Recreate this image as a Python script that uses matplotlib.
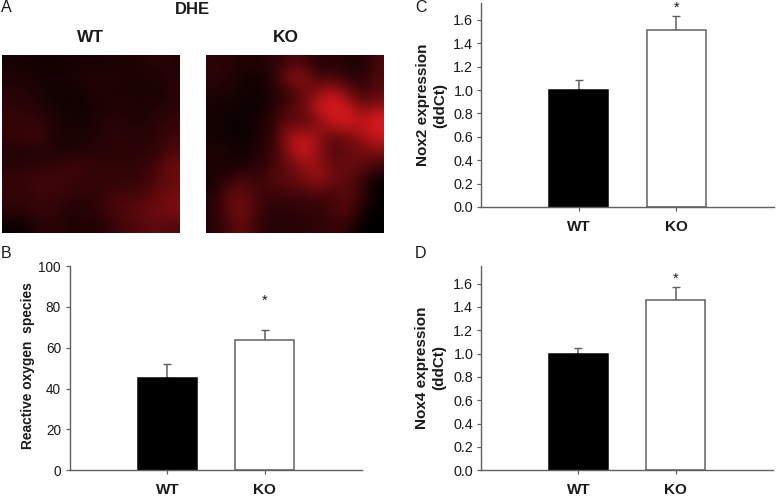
import numpy as np
import matplotlib
matplotlib.use("Agg")
import matplotlib.pyplot as plt
from matplotlib.colors import LinearSegmentedColormap

plt.rcParams['font.family'] = ['Liberation Sans', 'DejaVu Sans']

W, H = 776, 496
groups = ["WT", "KO"]

ros_values = [45, 64]
ros_upper = [52, 68.5]
ros_ticks = [0, 20, 40, 60, 80, 100]

nox2_values = [1.0, 1.515]
nox2_upper = [1.085, 1.635]
nox4_values = [1.0, 1.455]
nox4_upper = [1.045, 1.57]
nox_ticks = [0.0, 0.2, 0.4, 0.6, 0.8, 1.0, 1.2, 1.4, 1.6]

# Coarse estimate of red-signal intensity read from the micrographs
wt_intensity = [
    [.10, .10, .08, .08, .10, .10, .10, .12, .12, .14, .18, .14],
    [.14, .12, .10, .10, .10, .14, .14, .14, .12, .12, .14, .16],
    [.18, .16, .12, .08, .08, .10, .14, .12, .12, .10, .10, .18],
    [.20, .18, .16, .10, .08, .08, .12, .14, .14, .14, .16, .18],
    [.22, .24, .20, .14, .10, .10, .14, .18, .14, .14, .18, .22],
    [.22, .24, .28, .14, .10, .12, .16, .20, .18, .16, .20, .28],
    [.16, .12, .16, .14, .14, .16, .16, .18, .18, .18, .22, .32],
    [.18, .18, .20, .22, .26, .26, .20, .22, .20, .22, .32, .46],
    [.22, .24, .28, .28, .26, .22, .22, .22, .22, .24, .34, .42],
    [.24, .18, .26, .24, .22, .18, .22, .28, .30, .32, .40, .48],
    [.18, .20, .24, .22, .14, .16, .20, .30, .36, .40, .46, .50],
    [.04, .05, .16, .18, .14, .14, .12, .24, .30, .36, .38, .34],
]
ko_intensity = [
    [.18, .18, .14, .14, .18, .28, .30, .16, .16, .14, .12, .30],
    [.20, .16, .10, .08, .16, .50, .62, .28, .30, .22, .16, .34],
    [.14, .12, .08, .06, .14, .26, .36, .58, .72, .50, .24, .36],
    [.10, .08, .06, .06, .14, .30, .44, .72, .88, .78, .50, .60],
    [.10, .06, .05, .10, .20, .44, .34, .52, .74, .88, .72, .90],
    [.10, .06, .05, .12, .18, .62, .72, .62, .40, .46, .60, .78],
    [.14, .12, .08, .14, .24, .54, .82, .60, .32, .40, .46, .52],
    [.12, .10, .12, .18, .30, .38, .56, .62, .44, .44, .38, .28],
    [.10, .22, .34, .24, .34, .40, .44, .60, .44, .38, .26, .02],
    [.14, .40, .42, .28, .24, .26, .26, .30, .26, .40, .22, .02],
    [.16, .36, .48, .28, .16, .18, .20, .20, .28, .38, .12, .01],
    [.14, .30, .42, .22, .16, .16, .18, .20, .24, .20, .02, .00],
]

fig = plt.figure(figsize=(W / 100, H / 100), dpi=100, facecolor="white")


def px_axes(x0, y0, x1, y1):
    """Axes from pixel edges, y measured from the top of the figure."""
    return fig.add_axes([x0 / W, 1 - y1 / H, (x1 - x0) / W, (y1 - y0) / H])


def ftext(x, y, s, **kw):
    kw.setdefault("ha", "center")
    kw.setdefault("va", "center")
    kw.setdefault("color", "#1a1a1a")
    fig.text(x / W, 1 - y / H, s, **kw)


GRAY = "#606060"
LABEL_FS = 11


def bar_panel(box, values, upper, ylim, ticks, fmt, star_y, tick_fs, tick_pad):
    ax = px_axes(*box)
    x = [1, 2]
    ax.bar(x, values, width=0.6, color=["black", "white"],
           edgecolor=["black", GRAY], linewidth=1.1, zorder=2)
    for xi, v, u in zip(x, values, upper):
        ax.errorbar(xi, v, yerr=[[0], [u - v]], ecolor=GRAY, elinewidth=1.1,
                    capsize=2.6, capthick=1.0, fmt="none", zorder=1)
    ax.set_xlim(0, 3)
    ax.set_ylim(*ylim)
    ax.set_xticks(x)
    ax.set_xticklabels(groups, fontweight="bold", fontsize=LABEL_FS, color="#1a1a1a")
    ax.set_yticks(ticks)
    ax.set_yticklabels([fmt.format(t) for t in ticks], fontsize=tick_fs, color="#1a1a1a")
    ax.tick_params(axis="x", length=3, width=0.9, color=GRAY, pad=6.5)
    ax.tick_params(axis="y", length=3, width=0.9, color=GRAY, pad=tick_pad)
    for s in ("top", "right"):
        ax.spines[s].set_visible(False)
    for s in ("left", "bottom"):
        ax.spines[s].set_color(GRAY)
        ax.spines[s].set_linewidth(1.0)
    ax.patch.set_alpha(0)
    ax.text(2, star_y, "*", ha="center", va="center", fontsize=10.5,
            color="#1a1a1a", clip_on=False)
    return ax


bar_panel((70, 266, 362, 470.3), ros_values, ros_upper, (0, 100), ros_ticks, "{:.0f}", 83, 9.8, 3.5)
bar_panel((481, 3, 774, 207), nox2_values, nox2_upper, (0, 1.745), nox_ticks, "{:.1f}", 1.705, 10.4, 2.5)
bar_panel((481, 266, 773, 470.3), nox4_values, nox4_upper, (0, 1.75), nox_ticks, "{:.1f}", 1.64, 10.4, 2.5)

red_map = LinearSegmentedColormap.from_list(
    "dhe", ["#000000", "#3a0508", "#7a0d10", "#c4161a", "#ee2024"])
for box, grid in (((2, 55, 180, 233), wt_intensity), ((206, 55, 384, 233), ko_intensity)):
    ax = px_axes(*box)
    ax.imshow(np.array(grid), cmap=red_map, vmin=0, vmax=1, aspect="auto",
              interpolation="bicubic")
    ax.set_axis_off()

for x, y, s in ((6, 8, "A"), (6, 253, "B"), (421, 8, "C"), (421, 253, "D")):
    ftext(x, y, s, fontsize=11.5)

ftext(192, 10, "DHE", fontweight="bold", fontsize=12)
ftext(91, 38, "WT", fontweight="bold", fontsize=12.5)
ftext(286, 38, "KO", fontweight="bold", fontsize=12.5)

ftext(28.5, 366, "Reactive oxygen  species", rotation=90, fontweight="bold", fontsize=9.9)
ftext(432, 105, "Nox2 expression\n(ddCt)", rotation=90, fontweight="bold",
      fontsize=LABEL_FS, linespacing=1.3)
ftext(431, 368, "Nox4 expression\n(ddCt)", rotation=90, fontweight="bold",
      fontsize=LABEL_FS, linespacing=1.3)

fig.savefig("out.png", dpi=100)
